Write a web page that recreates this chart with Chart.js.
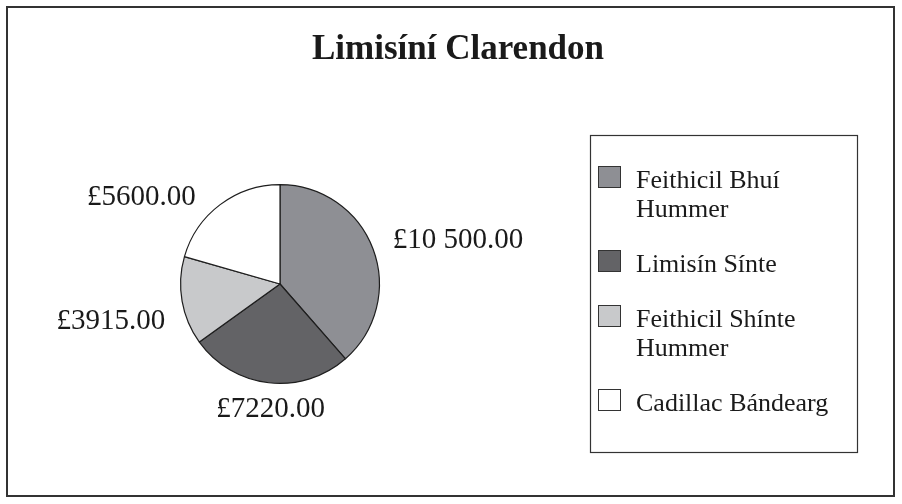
<!DOCTYPE html>
<html>
<head>
<meta charset="utf-8">
<script src="https://cdn.jsdelivr.net/npm/chart.js@4.4.1/dist/chart.umd.min.js"></script>
<style>
  html, body { margin: 0; padding: 0; background: #ffffff; }
  #wrap { width: 902px; height: 504px; position: relative; }
</style>
</head>
<body>
<div id="wrap"><canvas id="c" width="902" height="504"></canvas></div>
<script>
// ---- data ----
const chartTitle = 'Limisíní Clarendon';
const categories = [['Feithicil Bhuí', 'Hummer'], 'Limisín Sínte', ['Feithicil Shínte', 'Hummer'], 'Cadillac Bándearg'];
const values = [10500, 7220, 3915, 5600];
const sliceColors = ['#8e8f94', '#636366', '#c8c9cb', '#ffffff'];

function fmtPounds(v) {
  let parts = v.toFixed(2).split('.');
  let ip = parts[0];
  if (ip.length > 4) ip = ip.replace(/\B(?=(\d{3})+(?!\d))/g, ' ');
  return '£' + ip + '.' + parts[1];
}

const SERIF = '"Liberation Serif", "Times New Roman", Times, serif';

const decorPlugin = {
  id: 'decor',
  beforeDraw(chart) {
    const ctx = chart.ctx;
    ctx.save();
    ctx.fillStyle = '#ffffff';
    ctx.fillRect(0, 0, chart.width, chart.height);
    // outer frame
    ctx.strokeStyle = '#333333';
    ctx.lineWidth = 2;
    ctx.strokeRect(7, 7, 887, 489);
    // title
    ctx.fillStyle = '#1a1a1a';
    ctx.font = 'bold 35px ' + SERIF;
    ctx.textAlign = 'center';
    ctx.textBaseline = 'alphabetic';
    ctx.fillText(chartTitle, 458, 59);
    ctx.restore();
  },
  afterDraw(chart) {
    const ctx = chart.ctx;
    const meta = chart.getDatasetMeta(0);
    const ds = chart.data.datasets[0];
    ctx.save();
    // value labels (outside end)
    ctx.font = '29px ' + SERIF;
    ctx.fillStyle = '#1a1a1a';
    ctx.textAlign = 'center';
    ctx.textBaseline = 'middle';
    meta.data.forEach((arc, i) => {
      const p = arc.getProps(['x', 'y', 'startAngle', 'endAngle', 'outerRadius'], true);
      const mid = (p.startAngle + p.endAngle) / 2;
      const c = Math.cos(mid), s = Math.sin(mid);
      const r = p.outerRadius + 10;
      const ax = p.x + c * r, ay = p.y + s * r;
      const txt = fmtPounds(ds.data[i]);
      const w = ctx.measureText(txt).width, h = 29;
      let dx, dy;
      if (Math.abs(c) > 0.3) {
        dx = Math.sign(c) * (w / 2 + 4 + 18 * Math.abs(s));
        dy = s * h / 2 + (c < 0 ? 0.6 * h * (1 - 0.35 * Math.abs(s)) : 0);
      } else {
        dx = -c * w / 4;
        dy = Math.sign(s) * (h / 2 + 2);
      }
      ctx.fillText(txt, ax + dx, ay + dy);
    });
    // legend
    const lx = 590, ly = 135, lw = 267, lh = 317;
    ctx.strokeStyle = '#333333';
    ctx.lineWidth = 1.2;
    ctx.strokeRect(lx + 0.5, ly + 0.5, lw, lh);
    ctx.font = '26px ' + SERIF;
    ctx.textAlign = 'left';
    ctx.textBaseline = 'alphabetic';
    const lineH = 29, itemGap = 26;
    let y = ly + 53; // first baseline
    chart.data.labels.forEach((lab, i) => {
      const lines = Array.isArray(lab) ? lab : [lab];
      ctx.fillStyle = ds.backgroundColor[i];
      ctx.fillRect(lx + 8, y - 22, 23, 22);
      ctx.strokeStyle = '#333333';
      ctx.lineWidth = 1;
      ctx.strokeRect(lx + 8.5, y - 21.5, 22, 21);
      ctx.fillStyle = '#1a1a1a';
      lines.forEach((ln, k) => ctx.fillText(ln, lx + 46, y + k * lineH));
      y += (lines.length - 1) * lineH + lineH + itemGap;
    });
    ctx.restore();
  }
};

new Chart(document.getElementById('c'), {
  type: 'pie',
  data: {
    labels: categories,
    datasets: [{
      data: values,
      backgroundColor: sliceColors,
      borderColor: '#1e1e1e',
      borderWidth: 1.2,
      hoverOffset: 0
    }]
  },
  options: {
    responsive: false,
    animation: false,
    events: [],
    layout: { padding: { left: 180, right: 522, top: 184, bottom: 120 } },
    plugins: {
      legend: { display: false },
      title: { display: false },
      tooltip: { enabled: false }
    }
  },
  plugins: [decorPlugin]
});
</script>
</body>
</html>
